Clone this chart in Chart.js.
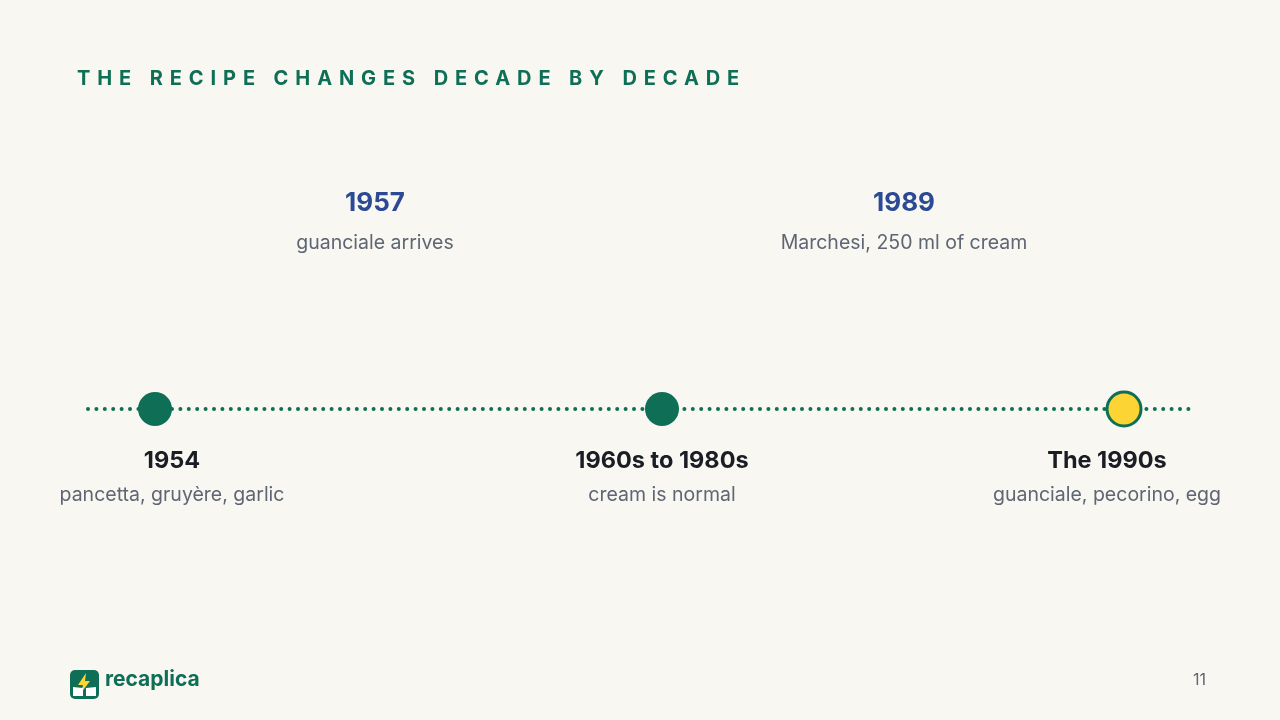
<!DOCTYPE html>
<html><head><meta charset="utf-8">
<script src="https://cdn.jsdelivr.net/npm/chart.js@4"></script>
<style>
html,body{margin:0;padding:0;background:#f8f7f2;width:1280px;height:720px;overflow:hidden;font-family:Inter,"Noto Sans",sans-serif}
#wrap{position:absolute;left:0;top:0;width:1280px;height:720px}
.title{position:absolute;left:77px;top:66px;font-size:20px;font-weight:700;letter-spacing:6.9px;color:#0f6e56}
.brand{position:absolute;left:105px;top:666px;font-size:21px;font-weight:700;color:#0f6e56}
.page{position:absolute;left:1193px;top:669px;font-size:16px;color:#5f6673}
</style></head><body>
<div id="wrap"><canvas id="c" width="1280" height="720"></canvas></div>
<div class="title">THE RECIPE CHANGES DECADE BY DECADE</div>
<svg style="position:absolute;left:70px;top:670px" width="29" height="29" viewBox="0 0 29 29">
<rect x="0" y="0" width="29" height="29" rx="5" fill="#0f6e56"/>
<path d="M16 3 L8 15 L13 15 L11 23 L20 11 L15 11 Z" fill="#fcd535"/>
<path d="M3 17 L13 18 L13 26 L3 26 Z M16 18 L26 17 L26 26 L16 26 Z" fill="#fff"/>
</svg>
<div class="brand">recaplica</div>
<div class="page">11</div>
<script>
// timeline positions (horizontal position units along the timeline)
const markerLabels = ["1954", "1960s to 1980s", "The 1990s"];
const markerNotes = ["pancetta, gruyère, garlic", "cream is normal", "guanciale, pecorino, egg"];
const markerPos = [155, 662, 1124];
const markerLabelPos = [172, 662, 1107];
const markerFill = ["#0f6e56", "#0f6e56", "#fcd535"];
const eventLabels = ["1957", "1989"];
const eventNotes = ["guanciale arrives", "Marchesi, 250 ml of cream"];
const eventPos = [375, 904];
const lineSpan = [88, 1192];
const lineLevel = 409;

const labelPlugin = {
  id: 'labels',
  afterDatasetsDraw(chart) {
    const {ctx, scales:{x, y}} = chart;
    ctx.save();
    ctx.textAlign = 'center'; ctx.textBaseline = 'middle';
    eventLabels.forEach((t, i) => {
      const px = x.getPixelForValue(eventPos[i]);
      ctx.font = '700 26px Inter'; ctx.fillStyle = '#2c4a94';
      ctx.fillText(t, px, 203);
      ctx.font = '400 19.5px Inter'; ctx.fillStyle = '#5f6673';
      ctx.fillText(eventNotes[i], px, 243);
    });
    markerLabels.forEach((t, i) => {
      const px = x.getPixelForValue(markerLabelPos[i]);
      ctx.font = '700 23.5px Inter'; ctx.fillStyle = '#1a1d24';
      ctx.fillText(t, px, 461);
      ctx.font = '400 19.5px Inter'; ctx.fillStyle = '#5f6673';
      ctx.fillText(markerNotes[i], px, 495);
    });
    ctx.restore();
  }
};

new Chart(document.getElementById('c'), {
  type: 'line',
  data: {
    datasets: [
      {
        data: lineSpan.map(v => ({x: v, y: lineLevel})),
        borderColor: '#0f6e56', borderWidth: 4, borderDash: [0, 8.4], borderCapStyle: 'round',
        pointRadius: 0, order: 2
      },
      {
        data: markerPos.map(v => ({x: v, y: lineLevel})),
        showLine: false, pointRadius: 17, pointHoverRadius: 17,
        pointBackgroundColor: markerFill, pointBorderColor: '#0f6e56', pointBorderWidth: [0, 0, 3],
        order: 1
      }
    ]
  },
  options: {
    responsive: false, animation: false, maintainAspectRatio: false,
    layout: {padding: 0, autoPadding: false},
    plugins: {legend: {display: false}, tooltip: {enabled: false}},
    scales: {
      x: {type: 'linear', min: 0, max: 1280, display: false},
      y: {type: 'linear', min: 0, max: 720, reverse: true, display: false}
    }
  },
  plugins: [labelPlugin]
});
</script>
</body></html>
